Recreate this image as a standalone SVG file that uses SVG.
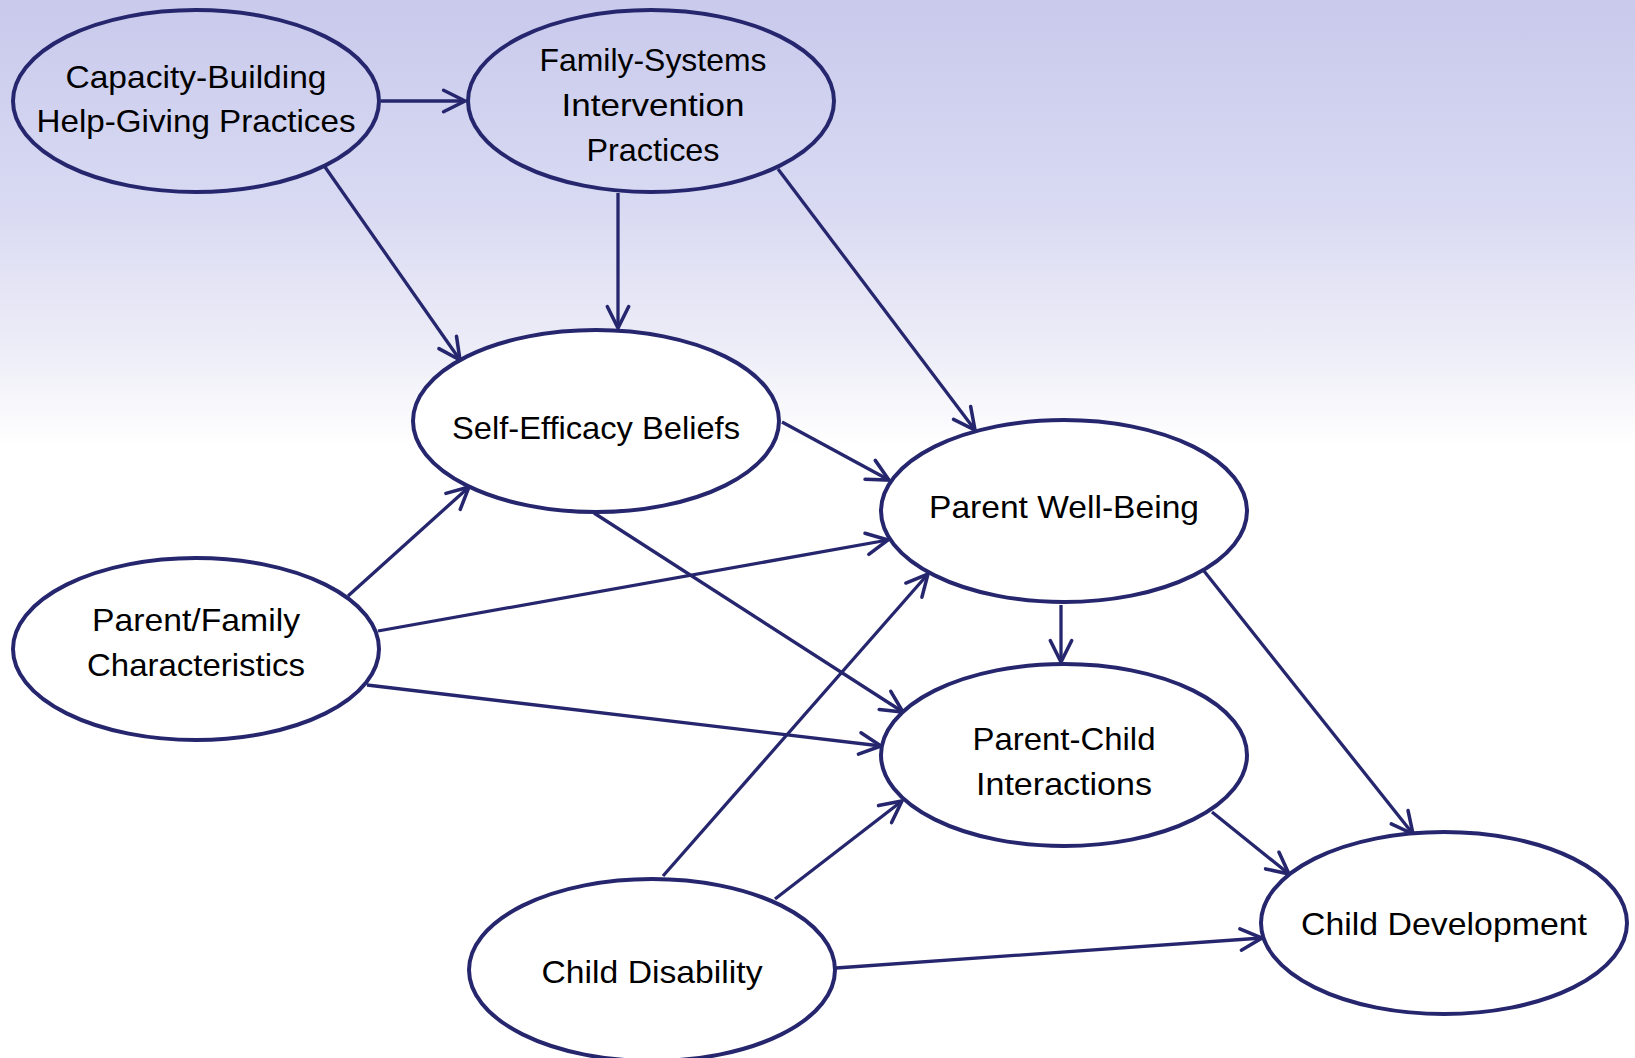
<svg xmlns="http://www.w3.org/2000/svg" width="1635" height="1058" viewBox="0 0 1635 1058">
<style>
.node{stroke:#26266e;stroke-width:4}
.top{fill:none}
.low{fill:#ffffff}
.lbl{font-family:"Liberation Sans",Arial,sans-serif;font-size:32px;fill:#000;text-anchor:middle}
.conn line{stroke:#26266e;stroke-width:3.3;fill:none;marker-end:url(#arr)}
</style>
<defs>
<linearGradient id="bg" x1="0" y1="0" x2="0" y2="445" gradientUnits="userSpaceOnUse">
<stop offset="0" stop-color="#c9caec"/>
<stop offset="0.45" stop-color="#d8d9f2"/>
<stop offset="0.8" stop-color="#eeeef8"/>
<stop offset="1" stop-color="#ffffff"/>
</linearGradient>
<marker id="arr" markerUnits="userSpaceOnUse" markerWidth="30" markerHeight="30" viewBox="-24 -14 28 28" refX="0" refY="0" orient="auto">
<path d="M-20,-10 L0,0 L-20,10" fill="none" stroke="#26266e" stroke-width="3.3" stroke-linecap="round" stroke-linejoin="miter"/>
</marker>
</defs>
<rect x="0" y="0" width="1635" height="1058" fill="#ffffff"/>
<rect x="0" y="0" width="1635" height="446" fill="url(#bg)"/>

<g id="connectors" class="conn">
<line x1="381" y1="101" x2="465" y2="101"/>
<line x1="325" y1="167" x2="460" y2="360"/>
<line x1="618" y1="193" x2="618" y2="328"/>
<line x1="778" y1="169" x2="975" y2="430"/>
<line x1="782" y1="422" x2="889" y2="480"/>
<line x1="594" y1="513" x2="903" y2="712"/>
<line x1="348" y1="596" x2="469" y2="487"/>
<line x1="378" y1="631" x2="888" y2="540"/>
<line x1="367" y1="685" x2="881" y2="746"/>
<line x1="1061" y1="605" x2="1061" y2="662"/>
<line x1="1204" y1="571" x2="1413" y2="834"/>
<line x1="663" y1="876" x2="928" y2="574"/>
<line x1="775" y1="899" x2="902" y2="801"/>
<line x1="1212" y1="812" x2="1289" y2="874"/>
<line x1="836" y1="968" x2="1262" y2="938"/>
</g>

<g id="capacity-building">
<ellipse class="node top" cx="196" cy="101" rx="183" ry="91"/>
<text class="lbl" x="196" y="88" textLength="261" lengthAdjust="spacingAndGlyphs">Capacity-Building</text>
<text class="lbl" x="196" y="132" textLength="319" lengthAdjust="spacingAndGlyphs">Help-Giving Practices</text>
</g>

<g id="family-systems">
<ellipse class="node top" cx="651" cy="101" rx="183" ry="91"/>
<text class="lbl" x="653" y="71" textLength="227" lengthAdjust="spacingAndGlyphs">Family-Systems</text>
<text class="lbl" x="653" y="116" textLength="183" lengthAdjust="spacingAndGlyphs">Intervention</text>
<text class="lbl" x="653" y="161" textLength="133" lengthAdjust="spacingAndGlyphs">Practices</text>
</g>

<g id="self-efficacy">
<ellipse class="node low" cx="596" cy="421" rx="183" ry="91"/>
<text class="lbl" x="596" y="439" textLength="288" lengthAdjust="spacingAndGlyphs">Self-Efficacy Beliefs</text>
</g>

<g id="parent-well-being">
<ellipse class="node low" cx="1064" cy="511" rx="183" ry="91"/>
<text class="lbl" x="1064" y="518" textLength="270" lengthAdjust="spacingAndGlyphs">Parent Well-Being</text>
</g>

<g id="parent-family">
<ellipse class="node low" cx="196" cy="649" rx="183" ry="91"/>
<text class="lbl" x="196" y="631" textLength="208" lengthAdjust="spacingAndGlyphs">Parent/Family</text>
<text class="lbl" x="196" y="676" textLength="218" lengthAdjust="spacingAndGlyphs">Characteristics</text>
</g>

<g id="parent-child">
<ellipse class="node low" cx="1064" cy="755" rx="183" ry="91"/>
<text class="lbl" x="1064" y="750" textLength="183" lengthAdjust="spacingAndGlyphs">Parent-Child</text>
<text class="lbl" x="1064" y="795" textLength="176" lengthAdjust="spacingAndGlyphs">Interactions</text>
</g>

<g id="child-development">
<ellipse class="node low" cx="1444" cy="923" rx="183" ry="91"/>
<text class="lbl" x="1444" y="935" textLength="286" lengthAdjust="spacingAndGlyphs">Child Development</text>
</g>

<g id="child-disability">
<ellipse class="node low" cx="652" cy="970" rx="183" ry="91"/>
<text class="lbl" x="652" y="983" textLength="221" lengthAdjust="spacingAndGlyphs">Child Disability</text>
</g>
</svg>
